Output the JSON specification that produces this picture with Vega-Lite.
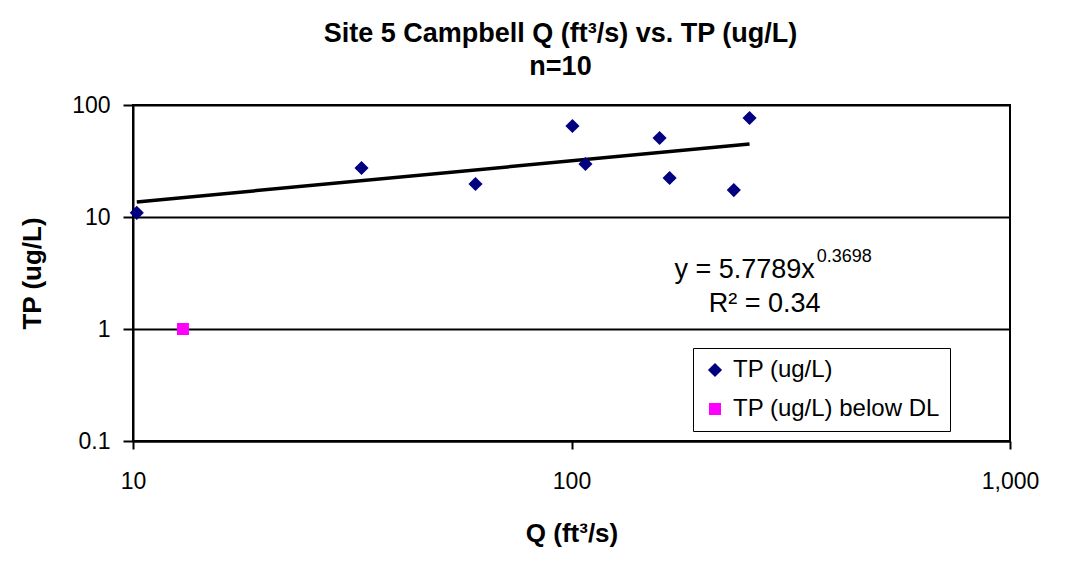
{
  "$schema": "https://vega.github.io/schema/vega-lite/v6.json",
  "autosize": "none",
  "width": 877,
  "height": 336,
  "padding": {"left": 133, "top": 105, "right": 59, "bottom": 122},
  "background": "white",
  "config": {
    "font": "Liberation Sans",
    "view": {"stroke": "black", "strokeWidth": 2}
  },
  "title": {
    "text": ["Site 5 Campbell Q (ft³/s) vs. TP (ug/L)", "n=10"],
    "fontSize": 27,
    "fontWeight": "bold",
    "font": "Liberation Sans",
    "color": "black",
    "anchor": "middle",
    "frame": "group",
    "dx": -11,
    "offset": 13,
    "lineHeight": 33
  },
  "datasets": {
    "obs": [
      {"Q": 10.2, "TP": 10.9, "series": "TP (ug/L)"},
      {"Q": 33.2, "TP": 27.4, "series": "TP (ug/L)"},
      {"Q": 60.4, "TP": 19.7, "series": "TP (ug/L)"},
      {"Q": 100.5, "TP": 65.0, "series": "TP (ug/L)"},
      {"Q": 107.6, "TP": 29.7, "series": "TP (ug/L)"},
      {"Q": 158.8, "TP": 50.7, "series": "TP (ug/L)"},
      {"Q": 167.4, "TP": 22.3, "series": "TP (ug/L)"},
      {"Q": 234.5, "TP": 17.4, "series": "TP (ug/L)"},
      {"Q": 254.7, "TP": 76.5, "series": "TP (ug/L)"},
      {"Q": 13.0, "TP": 1.0, "series": "TP (ug/L) below DL"}
    ],
    "trend": [
      {"Q": 10.2, "TP": 13.64},
      {"Q": 254.7, "TP": 44.84}
    ],
    "notes": [
      {"kind": "main", "label": "y = 5.7789x", "Q": 358.7, "TP": 2.87},
      {"kind": "sup", "label": "0.3698", "Q": 362.5, "TP": 3.96},
      {"kind": "r2", "label": "R² = 0.34", "Q": 275.8, "TP": 1.427}
    ]
  },
  "layer": [
    {
      "data": {"name": "trend"},
      "mark": {"type": "line", "color": "black", "strokeWidth": 3.5},
      "encoding": {
        "x": {
          "field": "Q", "type": "quantitative",
          "scale": {"type": "log", "domain": [10, 1000]},
          "axis": {
            "values": [10, 100, 1000], "format": ",", "title": "Q (ft³/s)",
            "grid": false, "domainColor": "black", "domainWidth": 2,
            "tickColor": "black", "tickWidth": 2, "tickSize": 8,
            "labelFontSize": 23, "labelColor": "black", "labelPadding": 21, "labelFlush": false,
            "titleFontSize": 26, "titleFontWeight": "bold", "titleColor": "black",
            "titleY": 92, "titleBaseline": "middle"
          }
        },
        "y": {
          "field": "TP", "type": "quantitative",
          "scale": {"type": "log", "domain": [0.1, 100]},
          "axis": {
            "values": [0.1, 1, 10, 100], "format": "~g", "title": "TP (ug/L)",
            "grid": true, "gridColor": "black", "gridWidth": 2, "gridOpacity": 1,
            "domainColor": "black", "domainWidth": 2,
            "tickColor": "black", "tickWidth": 2, "tickSize": 10,
            "labelFontSize": 23, "labelColor": "black", "labelPadding": 13, "labelFlush": false,
            "titleFontSize": 26, "titleFontWeight": "bold", "titleColor": "black",
            "titleX": -101, "titleY": 168, "titleAngle": 270,
            "titleAlign": "center", "titleBaseline": "middle"
          }
        }
      }
    },
    {
      "data": {"name": "obs"},
      "mark": {"type": "point", "filled": true, "opacity": 1},
      "encoding": {
        "x": {"field": "Q", "type": "quantitative"},
        "y": {"field": "TP", "type": "quantitative"},
        "color": {
          "field": "series", "type": "nominal",
          "scale": {"domain": ["TP (ug/L)", "TP (ug/L) below DL"], "range": ["#000080", "#FF00FF"]},
          "legend": {
            "title": null, "orient": "none", "legendX": 560, "legendY": 243,
            "strokeColor": "black", "fillColor": "white", "padding": 10,
            "labelFontSize": 24, "labelColor": "black", "labelLimit": 400, "rowPadding": 15,
            "symbolSize": 110, "labelOffset": 6
          }
        },
        "shape": {
          "field": "series", "type": "nominal",
          "scale": {"domain": ["TP (ug/L)", "TP (ug/L) below DL"], "range": ["diamond", "square"]}
        },
        "size": {
          "field": "series", "type": "nominal",
          "scale": {"domain": ["TP (ug/L)", "TP (ug/L) below DL"], "range": [200, 144]},
          "legend": null
        }
      }
    },
    {
      "data": {"name": "notes"},
      "transform": [{"filter": "datum.kind === 'main'"}],
      "mark": {"type": "text", "align": "right", "baseline": "alphabetic", "fontSize": 27, "color": "black"},
      "encoding": {
        "x": {"field": "Q", "type": "quantitative"},
        "y": {"field": "TP", "type": "quantitative"},
        "text": {"field": "label"}
      }
    },
    {
      "data": {"name": "notes"},
      "transform": [{"filter": "datum.kind === 'sup'"}],
      "mark": {"type": "text", "align": "left", "baseline": "alphabetic", "fontSize": 18, "color": "black"},
      "encoding": {
        "x": {"field": "Q", "type": "quantitative"},
        "y": {"field": "TP", "type": "quantitative"},
        "text": {"field": "label"}
      }
    },
    {
      "data": {"name": "notes"},
      "transform": [{"filter": "datum.kind === 'r2'"}],
      "mark": {"type": "text", "align": "center", "baseline": "alphabetic", "fontSize": 27, "color": "black"},
      "encoding": {
        "x": {"field": "Q", "type": "quantitative"},
        "y": {"field": "TP", "type": "quantitative"},
        "text": {"field": "label"}
      }
    }
  ]
}
